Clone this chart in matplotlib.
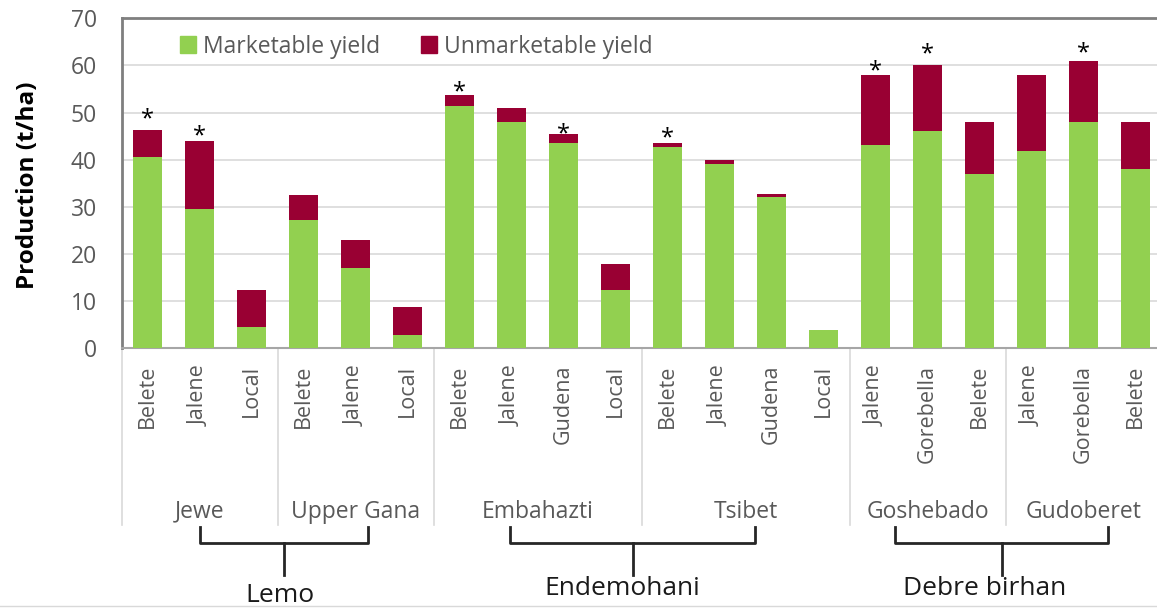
import numpy as np
import matplotlib
matplotlib.use("Agg")
from matplotlib import pyplot as plt
from matplotlib.patches import Patch

plt.rcParams['font.family'] = ['Open Sans', 'DejaVu Sans']

# data (t/ha)
varieties = ['Belete', 'Jalene', 'Local',
             'Belete', 'Jalene', 'Local',
             'Belete', 'Jalene', 'Gudena', 'Local',
             'Belete', 'Jalene', 'Gudena', 'Local',
             'Jalene', 'Gorebella', 'Belete',
             'Jalene', 'Gorebella', 'Belete']
marketable = [40.6, 29.5, 4.5,
              27.2, 17.0, 2.8,
              51.5, 47.9, 43.5, 12.3,
              42.8, 39.2, 32.1, 3.9,
              43.1, 46.1, 36.9,
              41.9, 48.1, 38.0]
total = [46.2, 44.0, 12.3,
         32.5, 23.0, 8.8,
         53.7, 50.9, 45.5, 17.8,
         43.5, 39.9, 32.8, 3.9,
         58.0, 60.1, 48.1,
         58.0, 61.0, 48.1]
unmarketable = [t - m for t, m in zip(total, marketable)]

sites = ['Jewe', 'Upper Gana', 'Embahazti', 'Tsibet', 'Goshebado', 'Gudoberet']
site_sizes = [3, 3, 4, 4, 3, 3]

districts = ['Lemo', 'Endemohani', 'Debre birhan']
# bracket span (in bar positions) and label position
bracket_spans = [(1.0, 4.24), (6.97, 11.68), (14.37, 18.47)]
district_label_x = [2.55, 9.12, 16.1]

# asterisks (significance marks) and their heights
star_bars = [0, 1, 6, 8, 10, 14, 15, 18]
star_y = [49.9, 46.3, 55.6, 46.7, 45.9, 60.0, 63.6, 63.9]

green = '#92D050'
red = '#990033'
grey_txt = '#595959'

fig = plt.figure(figsize=(11.57, 6.09), dpi=100)
W, H = 1157, 609
ax = fig.add_axes([121.7 / W, (H - 348.3) / H, 1040 / W, 330 / H])

x = np.arange(len(varieties))
ax.bar(x, marketable, width=0.56, color=green, zorder=3)
ax.bar(x, unmarketable, width=0.56, bottom=marketable, color=red, zorder=3)

for b, sy in zip(star_bars, star_y):
    ax.annotate('*', (b, sy), xytext=(0, -4.5), textcoords='offset points',
                ha='center', va='center', fontsize=17, color='black')

ax.set_xlim(-0.5, len(varieties) - 0.5)
ax.set_ylim(0, 70)
ax.set_yticks(np.arange(0, 71, 10))
ax.yaxis.grid(True, color='#d9d9d9', linewidth=1.2, zorder=0)
ax.set_axisbelow(True)
ax.tick_params(axis='y', length=0, pad=18, labelsize=16.5, labelcolor=grey_txt)
ax.set_xticks(x)
ax.set_xticklabels(varieties, rotation=90, fontsize=15.5, color=grey_txt)
ax.tick_params(axis='x', length=0, pad=12)

ax.spines['right'].set_visible(False)
for s in ['top', 'left']:
    ax.spines[s].set_color('#7f7f7f')
    ax.spines[s].set_linewidth(2)
ax.spines['bottom'].set_color('#a6a6a6')
ax.spines['bottom'].set_linewidth(1.5)

tr = ax.get_xaxis_transform()

# site separators and site labels
bounds = np.concatenate([[0], np.cumsum(site_sizes)]) - 0.5
for bx in bounds:
    ax.plot([bx, bx], [0, -0.5355], transform=tr, color='#d9d9d9',
            linewidth=1.2, clip_on=False)
for name, lo, hi in zip(sites, bounds[:-1], bounds[1:]):
    ax.text((lo + hi) / 2, -0.495, name, transform=tr, ha='center', va='center',
            fontsize=16.5, color=grey_txt)

# district brackets
y_top, y_mid, y_bot = -0.543, -0.59, -0.687
for (l, r), name, lx in zip(bracket_spans, districts, district_label_x):
    ax.plot([l, l, r, r], [y_top, y_mid, y_mid, y_top], transform=tr,
            color='#262626', linewidth=2, clip_on=False, solid_joinstyle='round')
    c = (l + r) / 2
    ax.plot([c, c], [y_mid, y_bot], transform=tr, color='#262626',
            linewidth=2, clip_on=False)
    by = -0.77 if name == 'Lemo' else -0.748
    ax.text(lx, by, name, transform=tr, ha='center', va='baseline',
            fontsize=19, color='#1a1a1a')

fig.text(28 / W, 1 - 185 / H, 'Production (t/ha)', rotation=90, ha='center',
         va='center', fontsize=17.5, fontweight='bold', color='black')

handles = [Patch(facecolor=green, edgecolor=green),
           Patch(facecolor=red, edgecolor=red)]
ax.legend(handles, ['Marketable yield', 'Unmarketable yield'], ncol=2,
          loc='center left', bbox_to_anchor=((180 - 121.7) / 1040, 0.9145),
          frameon=False, fontsize=16.5, labelcolor=grey_txt, borderpad=0,
          borderaxespad=0, handlelength=0.7, handleheight=0.7,
          handletextpad=0.3, columnspacing=1.8)

fig.add_artist(plt.Line2D([0, 1], [1 - 606 / H, 1 - 606 / H],
                          transform=fig.transFigure, color='#d9d9d9', linewidth=1))

fig.savefig('out.png', dpi=100)
